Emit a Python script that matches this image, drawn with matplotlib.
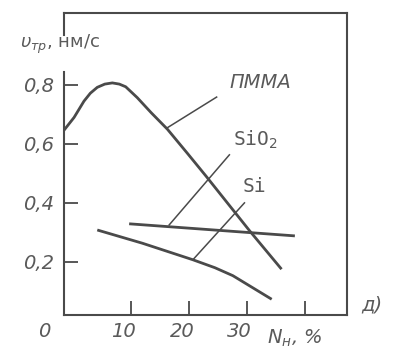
import matplotlib.pyplot as plt

# curves
pmma_x = [-1.6, 0.2, 1.9, 3.0, 4.2, 5.5, 6.8, 8.0, 9.1, 11.1, 13.5, 16.3, 19.8, 23, 30.5, 36]
pmma_y = [0.645, 0.69, 0.745, 0.772, 0.792, 0.803, 0.807, 0.803, 0.794, 0.757, 0.706, 0.65, 0.567, 0.49, 0.305, 0.175]
sio2_x = [9.7, 38.3]
sio2_y = [0.329, 0.288]
si_x = [4.2, 12, 20.7, 24.5, 27.6, 34.3]
si_y = [0.308, 0.263, 0.207, 0.18, 0.153, 0.073]

# leader lines: (from on curve) -> (to label)
leaders = {
    "ПММА": [(16.3, 0.655), (24.8, 0.759)],
    "SiO$_2$": [(16.6, 0.325), (27.0, 0.563)],
    "Si": [(20.7, 0.207), (29.6, 0.40)],
}
label_pos = {"ПММА": (27.0, 0.807), "SiO$_2$": (27.6, 0.614), "Si": (29.3, 0.454)}

yticks = [0.2, 0.4, 0.6, 0.8]
ytick_labels = ["0,2", "0,4", "0,6", "0,8"]
xticks = [10, 20, 30, 40]
xlab_pos = [-5, 8.7, 18.9, 28.8]
xlab_txt = ["0", "10", "20", "30"]

ink = "#4a4a4a"
txt = "#5a5a5a"
fs = 14

fig = plt.figure(figsize=(3.93, 3.53), dpi=100)
ax = fig.add_axes([0.162, 0.108, 0.721, 0.855])

for xs, ys in [(pmma_x, pmma_y), (sio2_x, sio2_y), (si_x, si_y)]:
    ax.plot(xs, ys, color=ink, lw=2.0, solid_joinstyle="round", solid_capstyle="butt")

for name, pts in leaders.items():
    ax.plot([pts[0][0], pts[1][0]], [pts[0][1], pts[1][1]], color=ink, lw=1.1)
    lx, ly = label_pos[name]
    ax.text(lx, ly, name, fontsize=fs, color=txt, style="italic" if name == "ПММА" else "normal",
            ha="left", va="center", family="DejaVu Sans Mono" if name != "ПММА" else "DejaVu Sans")

ax.set_xlim(-1.6, 47.3)
ax.set_ylim(0.02, 1.044)

for s in ["top", "right", "bottom"]:
    ax.spines[s].set_color(ink)
    ax.spines[s].set_linewidth(1.5)
ax.spines["left"].set_visible(False)
# left axis broken by the unit label
ax.plot([0, 0], [0, 0.805], transform=ax.transAxes, color=ink, lw=1.5, clip_on=False)
ax.plot([0, 0], [0.927, 1.0], transform=ax.transAxes, color=ink, lw=1.5, clip_on=False)

ax.set_yticks(yticks)
ax.set_yticklabels(ytick_labels)
ax.set_xticks(xticks)
ax.set_xticklabels([])
ax.tick_params(direction="in", length=10, width=1.3, color=ink)
ax.tick_params(axis="y", pad=7, labelsize=fs, labelcolor=txt)
for t in ax.get_yticklabels():
    t.set_style("italic")

for xp, t in zip(xlab_pos, xlab_txt):
    ax.text(xp, -0.055, t, fontsize=fs, color=txt, style="italic", ha="center", va="center",
            transform=ax.get_xaxis_transform(), clip_on=False)

fig.text(0.68, 0.042, r"$N_{\mathit{н}}$, %", fontsize=fs, color=txt, style="italic",
         ha="left", va="center")
fig.text(0.92, 0.136, "д)", fontsize=fs, color=txt, style="italic", ha="left", va="center")
fig.text(0.05, 0.873, r"$\upsilon_{\mathit{тр}}$, нм/с", fontsize=fs - 1, color=txt,
         ha="left", va="center")

fig.savefig("out.png", dpi=100)
